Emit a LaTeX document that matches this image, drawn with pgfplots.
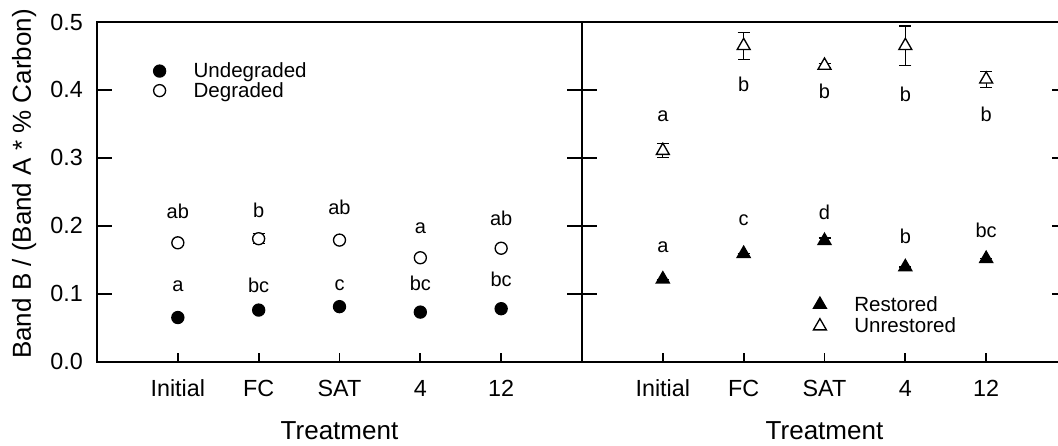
\documentclass[border=0pt]{standalone}
\usepackage{pgfplots}
\pgfplotsset{compat=1.18}
\usepackage{fontspec}
\setmainfont{Liberation Sans}
\newcommand{\tickfont}{\fontsize{17.5pt}{20pt}\selectfont}
\newcommand{\labfont}{\fontsize{19.5pt}{23pt}\selectfont}
\newcommand{\letfont}{\fontsize{15pt}{18pt}\selectfont}
\newcommand{\legfont}{\fontsize{15.4pt}{18pt}\selectfont}

\pgfplotstableread{
x y
1 0.065
2 0.076
3 0.081
4 0.073
5 0.078
}\undeg
\pgfplotstableread{
x y e
1 0.175 0
2 0.181 0.0075
3 0.179 0
4 0.153 0
5 0.167 0
}\deg
\pgfplotstableread{
x y e
1 0.1215 0
2 0.159 0
3 0.178 0.004
4 0.1394 0
5 0.1516 0
}\rest
\pgfplotstableread{
x y e
1 0.3106 0.010
2 0.465 0.020
3 0.436 0.003
4 0.465 0.029
5 0.4157 0.012
}\unrest

\tikzset{lt/.style={anchor=base, inner sep=0pt, font=\letfont}}
\pgfplotsset{
  panel/.style={
    scale only axis, width=363.75pt, height=254.775pt,
    xmin=0, xmax=6, ymin=0, ymax=0.5,
    xtick={1,2,3,4,5}, xticklabels={Initial,FC,SAT,4,12},
    ytick={0,0.1,0.2,0.3,0.4,0.5},
    xtick pos=bottom,
    tick align=inside,
    major tick length=11.25pt,
    x tick style={/pgfplots/major tick length=6.75pt},
    axis line style={line width=1.5pt},
    every tick/.style={black, line width=1.4pt},
    xticklabel style={font=\tickfont, anchor=base, yshift=-26.25pt, inner sep=0pt},
    yticklabel style={font=\tickfont, anchor=east, inner sep=0pt, xshift=-10.5pt},
    /pgf/number format/.cd, fixed, fixed zerofill, precision=1, assume math mode=true,
    /pgfplots/.cd,
    xlabel={Treatment},
    xlabel style={at={(axis description cs:0.5,0)}, anchor=base, yshift=-58.5pt, inner sep=0pt, font=\labfont},
    legend style={draw=none, fill=none, inner sep=0pt, font=\legfont, column sep=21pt, row sep=2pt, nodes={inner sep=0pt}},
    legend cell align=left,
    clip=false,
  },
  mk/.style={only marks, line width=1pt, draw=black,
    legend image code/.code={\draw[##1, line width=1pt] plot coordinates {(0pt,0pt)};}},
  eb/.style={error bars/.cd, y dir=both, y explicit,
    error mark options={rotate=90, mark size=4.5pt, line width=0.9pt, black},
    error bar style={line width=0.9pt, black}},
}

\begin{document}
\begin{tikzpicture}
\begin{axis}[panel, at={(72.75pt,63.225pt)}, anchor=south west,
  legend style={at={(axis cs:0.697,0.4134)}, anchor=west}]
\addplot[mk, mark=*, mark size=4.5pt, fill=black] table[x=x,y=y] {\undeg};
\addlegendentry{Undegraded}
\addplot[mk, mark=*, mark size=4.5pt, fill=white, eb] table[x=x,y=y,y error=e] {\deg};
\addlegendentry{Degraded}
\node[lt] at (axis cs:1,0.211) {ab};
\node[lt] at (axis cs:2,0.2125) {b};
\node[lt] at (axis cs:3,0.216) {ab};
\node[lt] at (axis cs:4,0.188) {a};
\node[lt] at (axis cs:5,0.201) {ab};
\node[lt] at (axis cs:1,0.104) {a};
\node[lt] at (axis cs:2,0.1016) {bc};
\node[lt] at (axis cs:3,0.1055) {c};
\node[lt] at (axis cs:4,0.1055) {bc};
\node[lt] at (axis cs:5,0.110) {bc};
\end{axis}
\begin{axis}[panel, at={(436.5pt,63.225pt)}, anchor=south west,
  yticklabels={},
  legend style={at={(axis cs:2.86,0.0682)}, anchor=west, row sep=3.5pt}]
\addplot[mk, mark=triangle*, mark size=5.6pt, fill=black, eb] table[x=x,y=y,y error=e] {\rest};
\addlegendentry{Restored}
\addplot[mk, mark=triangle*, mark size=5.6pt, fill=white, eb] table[x=x,y=y,y error=e] {\unrest};
\addlegendentry{Unrestored}
\node[lt] at (axis cs:1,0.353) {a};
\node[lt] at (axis cs:2,0.397) {b};
\node[lt] at (axis cs:3,0.3867) {b};
\node[lt] at (axis cs:4,0.383) {b};
\node[lt] at (axis cs:5,0.353) {b};
\node[lt] at (axis cs:1,0.161) {a};
\node[lt] at (axis cs:2,0.200) {c};
\node[lt] at (axis cs:3,0.2086) {d};
\node[lt] at (axis cs:4,0.174) {b};
\node[lt] at (axis cs:5,0.183) {bc};
\end{axis}
\node[rotate=90, anchor=base, font=\labfont, inner sep=0pt] at (23.25pt,196.5pt) {Band B / (Band A * \% Carbon)};
\pgfresetboundingbox
\path[use as bounding box] (0,0) rectangle (793.5pt,334.5pt);
\end{tikzpicture}
\end{document}
